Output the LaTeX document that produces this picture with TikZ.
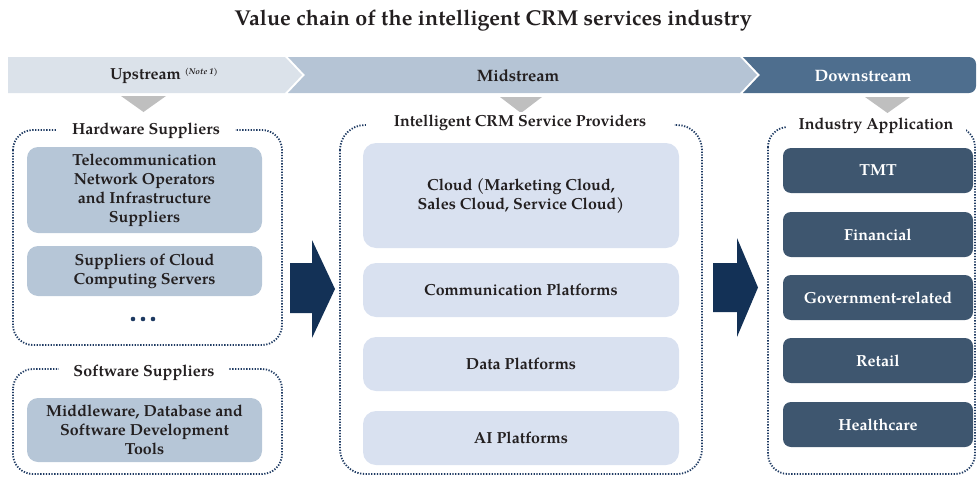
\documentclass[tikz,border=0pt]{standalone}
\usepackage{fontspec}
\setmainfont{texgyrepagella}[Extension=.otf, UprightFont=*-regular, BoldFont=*-bold, ItalicFont=*-italic, BoldItalicFont=*-bolditalic]
\definecolor{txt}{HTML}{231F20}
\definecolor{bandup}{HTML}{DBE2EA}
\definecolor{bandmid}{HTML}{B5C4D5}
\definecolor{banddown}{HTML}{4E6E8E}
\definecolor{tri}{HTML}{BFBFBF}
\definecolor{hwbox}{HTML}{B6C6D7}
\definecolor{midbox}{HTML}{D9E1F0}
\definecolor{downbox}{HTML}{3E566F}
\definecolor{bigarrow}{HTML}{133156}
\definecolor{dotcol}{HTML}{1E3A62}
\begin{document}
\begin{tikzpicture}[x=1pt,y=-1pt,
  every node/.style={text=txt, font=\fontsize{16}{19}\selectfont\bfseries, align=center, inner sep=0pt},
  frame/.style={draw=dotcol, line width=1.8pt, dash pattern=on 1.3pt off 1.5pt, rounded corners=20pt},
  framelabel/.style={fill=white, inner xsep=14pt, inner ysep=3pt},
  hwstyle/.style={fill=hwbox, rounded corners=11pt, minimum width=235pt},
  midstyle/.style={fill=midbox, rounded corners=13pt, minimum width=316pt},
  downstyle/.style={fill=downbox, rounded corners=8pt, minimum width=190pt, minimum height=45pt, text=white},
  tristyle/.style={fill=tri},
  arrowstyle/.style={fill=bigarrow}
]
\useasboundingbox (0,0) rectangle (978,477);

% title
\node[font=\fontsize{21.5}{25}\selectfont\bfseries] (title) at (493,21) {Value chain of the intelligent CRM services industry};

% bands
\fill[bandup] (8,57) -- (285,57) -- (302,75) -- (285,93) -- (8,93) -- cycle;
\fill[bandmid] (288,57) -- (740,57) -- (757,75) -- (740,93) -- (288,93) -- (305,75) -- cycle;
\fill[banddown] (743,57) -- (900,57) [rounded corners=7pt] -- (976,57) -- (976,93) -- (900,93) [sharp corners] -- (743,93) -- (760,75) -- cycle;
\node (up) at (164,76) {Upstream {\fontsize{8.5}{9}\selectfont\itshape\raisebox{5pt}{(Note 1)}}};
\node[font=\fontsize{16.5}{19}\selectfont\bfseries] (mid) at (518,76) {Midstream};
\node[font=\fontsize{16.5}{19}\selectfont\bfseries, text=white] (down) at (863,76) {Downstream};

% gray triangles
\fill[tristyle] (121,96) -- (166,96) -- (143.5,112) -- cycle;
\fill[tristyle] (500,97) -- (542,97) -- (521,113) -- cycle;
\fill[tristyle] (865,97) -- (910,97) -- (887.5,113) -- cycle;

% frames
\draw[frame] (13,130) rectangle (282,345);
\draw[frame] (13,369) rectangle (282,474);
\draw[frame, rounded corners=25pt] (340,125) rectangle (702,474);
\draw[frame] (768,127) rectangle (975,474);
\node[framelabel, inner xsep=15pt] (hwlab) at (146,131) {Hardware Suppliers};
\node[framelabel] (swlab) at (144,373) {Software Suppliers};
\node[framelabel, inner xsep=28pt] (midlab) at (520,123) {Intelligent CRM Service Providers};
\node[framelabel, inner xsep=13pt] (downlab) at (876,126) {Industry Application};

% upstream boxes
\node[hwstyle, minimum height=86pt] (hw1) at (144.5,190) {Telecommunication\\Network Operators\\and Infrastructure\\Suppliers};
\node[hwstyle, minimum height=50pt] (hw2) at (144.5,271) {Suppliers of Cloud\\Computing Servers};
\fill[dotcol] (133,319) circle (2.3pt) (143,319) circle (2.3pt) (153,319) circle (2.3pt);
\node[hwstyle, minimum height=64pt] (sw1) at (144.5,430) {Middleware, Database and\\Software Development\\Tools};

% midstream boxes
\node[midstyle, minimum height=105pt] (cloud) at (521,195.5) {Cloud (Marketing Cloud,\\Sales Cloud, Service Cloud)};
\node[midstyle, minimum height=54pt] (comm) at (521,290) {Communication Platforms};
\node[midstyle, minimum height=54pt] (data) at (521,364) {Data Platforms};
\node[midstyle, minimum height=54pt] (ai) at (521,438) {AI Platforms};

% downstream boxes
\node[downstyle] (tmt) at (878,170.5) {TMT};
\node[downstyle] (fin) at (878,234.5) {Financial};
\node[downstyle] (gov) at (878,297.5) {Government-related};
\node[downstyle] (ret) at (878,360.5) {Retail};
\node[downstyle] (hc) at (878,424.5) {Healthcare};

% big arrows
\fill[arrowstyle] (290,263) -- (312,263) -- (312,240) -- (335,289) -- (312,338) -- (312,313) -- (290,313) -- cycle;
\fill[arrowstyle] (713,263) -- (737,263) -- (737,238) -- (758,287.5) -- (737,337) -- (737,312) -- (713,312) -- cycle;
\end{tikzpicture}
\end{document}
